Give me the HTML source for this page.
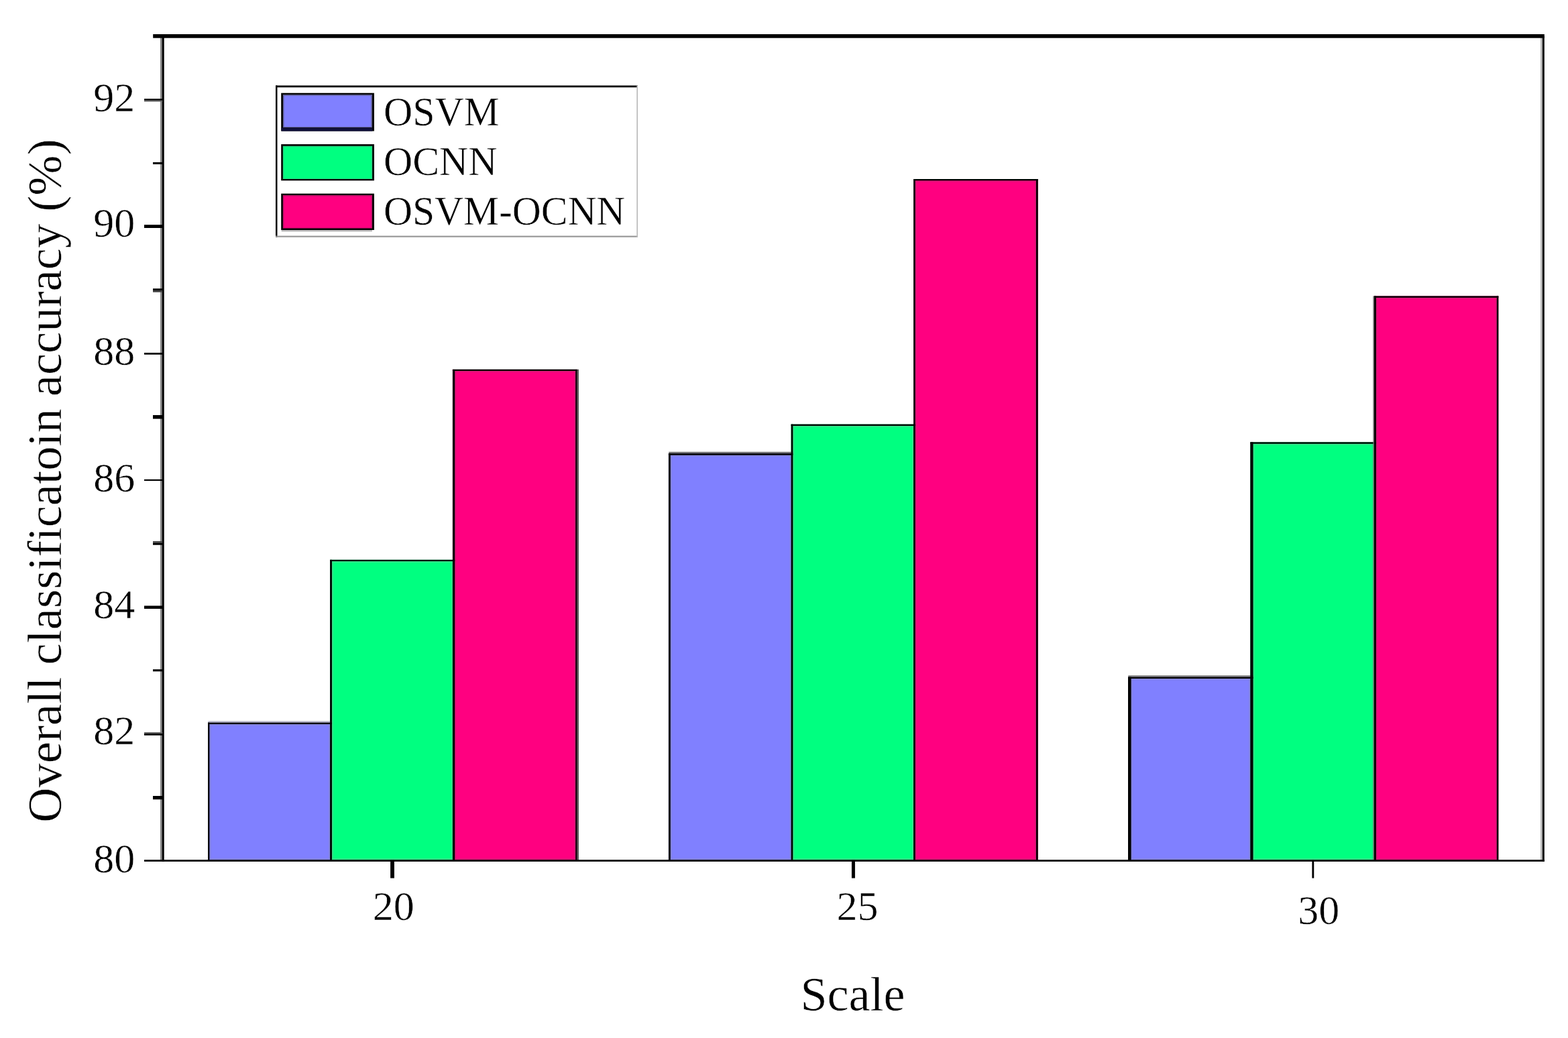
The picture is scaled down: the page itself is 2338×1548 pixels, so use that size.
<!DOCTYPE html>
<html><head><meta charset="utf-8"><title>Overall classification accuracy</title>
<style>
html,body{margin:0;padding:0;background:#fff;}
body{width:2338px;height:1548px;overflow:hidden;}
svg{display:block;}
text{font-family:"Liberation Serif",serif;fill:#000;stroke:#fff;stroke-width:0.5px;}
</style></head><body>
<svg width="2338" height="1548" viewBox="0 0 2338 1548">
<rect width="2338" height="1548" fill="#fff"/>
<g id="chart">

<g id="bars">
<rect x="310.05" y="1077.60" width="184.85" height="206.30" fill="#8080ff"/>
<rect x="492.10" y="834.80" width="186.10" height="449.10" fill="#00ff80"/>
<rect x="674.90" y="550.90" width="185.70" height="733.00" fill="#ff0080"/>
<rect x="312.40" y="1080.00" width="179.70" height="2.20" fill="#8484e2"/>
<rect x="312.40" y="1280.00" width="179.70" height="2.20" fill="#8484e2"/>
<rect x="312.40" y="1080.00" width="2.20" height="202.20" fill="#8484e2"/>
<rect x="489.90" y="1080.00" width="2.20" height="202.20" fill="#8484e2"/>
<rect x="494.90" y="837.00" width="180.00" height="2.20" fill="#30e488"/>
<rect x="494.90" y="1280.00" width="180.00" height="2.20" fill="#30e488"/>
<rect x="494.90" y="837.00" width="2.20" height="445.20" fill="#30e488"/>
<rect x="672.70" y="837.00" width="2.20" height="445.20" fill="#30e488"/>
<rect x="678.20" y="553.10" width="180.00" height="2.20" fill="#de1478"/>
<rect x="678.20" y="1280.00" width="180.00" height="2.20" fill="#de1478"/>
<rect x="678.20" y="553.10" width="2.20" height="729.10" fill="#de1478"/>
<rect x="856.00" y="553.10" width="2.20" height="729.10" fill="#de1478"/>
<rect x="310.35" y="1075.30" width="184.55" height="2.30" fill="#b8b8c8"/>
<rect x="310.05" y="1077.60" width="184.85" height="2.40" fill="#000"/>
<rect x="492.10" y="834.80" width="186.10" height="2.20" fill="#000"/>
<rect x="674.90" y="550.90" width="185.70" height="2.20" fill="#000"/>
<rect x="310.05" y="1077.60" width="2.35" height="206.30" fill="#000"/>
<rect x="492.10" y="834.80" width="2.80" height="449.10" fill="#000"/>
<rect x="674.90" y="550.90" width="3.30" height="733.00" fill="#000"/>
<rect x="858.20" y="550.90" width="2.40" height="733.00" fill="#000"/>
<rect x="860.60" y="550.90" width="2.30" height="732.50" fill="#555"/>
<rect x="996.90" y="676.20" width="185.40" height="607.70" fill="#8080ff"/>
<rect x="1179.60" y="632.70" width="185.15" height="651.20" fill="#00ff80"/>
<rect x="1362.10" y="267.00" width="185.60" height="1016.90" fill="#ff0080"/>
<rect x="999.75" y="678.80" width="179.85" height="2.20" fill="#8484e2"/>
<rect x="999.75" y="1280.00" width="179.85" height="2.20" fill="#8484e2"/>
<rect x="999.75" y="678.80" width="2.20" height="603.40" fill="#8484e2"/>
<rect x="1177.40" y="678.80" width="2.20" height="603.40" fill="#8484e2"/>
<rect x="1182.30" y="635.05" width="179.80" height="2.20" fill="#30e488"/>
<rect x="1182.30" y="1280.00" width="179.80" height="2.20" fill="#30e488"/>
<rect x="1182.30" y="635.05" width="2.20" height="647.15" fill="#30e488"/>
<rect x="1359.90" y="635.05" width="2.20" height="647.15" fill="#30e488"/>
<rect x="1364.75" y="269.30" width="180.15" height="2.20" fill="#de1478"/>
<rect x="1364.75" y="1280.00" width="180.15" height="2.20" fill="#de1478"/>
<rect x="1364.75" y="269.30" width="2.20" height="1012.90" fill="#de1478"/>
<rect x="1542.70" y="269.30" width="2.20" height="1012.90" fill="#de1478"/>
<rect x="997.20" y="673.80" width="185.10" height="2.40" fill="#777"/>
<rect x="996.90" y="676.20" width="185.40" height="2.60" fill="#000"/>
<rect x="1179.60" y="632.70" width="185.15" height="2.35" fill="#000"/>
<rect x="1362.10" y="267.00" width="185.60" height="2.30" fill="#000"/>
<rect x="996.90" y="676.20" width="2.85" height="607.70" fill="#000"/>
<rect x="1179.60" y="632.70" width="2.70" height="651.20" fill="#000"/>
<rect x="1362.10" y="267.00" width="2.65" height="1016.90" fill="#000"/>
<rect x="1544.90" y="267.00" width="2.80" height="1016.90" fill="#000"/>
<rect x="1682.00" y="1009.60" width="186.50" height="274.30" fill="#8080ff"/>
<rect x="1864.30" y="659.40" width="187.50" height="624.50" fill="#00ff80"/>
<rect x="2048.80" y="441.50" width="185.50" height="842.40" fill="#ff0080"/>
<rect x="1686.60" y="1012.00" width="177.70" height="2.20" fill="#8484e2"/>
<rect x="1686.60" y="1280.00" width="177.70" height="2.20" fill="#8484e2"/>
<rect x="1686.60" y="1012.00" width="2.20" height="270.20" fill="#8484e2"/>
<rect x="1862.10" y="1012.00" width="2.20" height="270.20" fill="#8484e2"/>
<rect x="1868.50" y="661.80" width="180.30" height="2.20" fill="#30e488"/>
<rect x="1868.50" y="1280.00" width="180.30" height="2.20" fill="#30e488"/>
<rect x="1868.50" y="661.80" width="2.20" height="620.40" fill="#30e488"/>
<rect x="2046.60" y="661.80" width="2.20" height="620.40" fill="#30e488"/>
<rect x="2051.80" y="443.90" width="180.00" height="2.20" fill="#de1478"/>
<rect x="2051.80" y="1280.00" width="180.00" height="2.20" fill="#de1478"/>
<rect x="2051.80" y="443.90" width="2.20" height="838.30" fill="#de1478"/>
<rect x="2229.60" y="443.90" width="2.20" height="838.30" fill="#de1478"/>
<rect x="1682.30" y="1007.30" width="186.20" height="2.30" fill="#777"/>
<rect x="1682.00" y="1009.60" width="186.50" height="2.40" fill="#000"/>
<rect x="1864.30" y="659.40" width="187.50" height="2.40" fill="#000"/>
<rect x="2048.80" y="441.50" width="185.50" height="2.40" fill="#000"/>
<rect x="1682.00" y="1009.60" width="4.60" height="274.30" fill="#000"/>
<rect x="1864.30" y="659.40" width="4.20" height="624.50" fill="#000"/>
<rect x="2048.80" y="441.50" width="3.00" height="842.40" fill="#000"/>
<rect x="2231.80" y="441.50" width="2.50" height="842.40" fill="#000"/>
<rect x="2047.40" y="441.50" width="1.40" height="841.90" fill="#666"/>
</g>
<g id="axes">
<rect x="238.90" y="53.80" width="3.00" height="1229.60" fill="#888"/>
<rect x="2297.00" y="53.80" width="3.00" height="1229.60" fill="#bbb"/>
<rect x="241.70" y="53.80" width="3.00" height="1231.00" fill="#000"/>
<rect x="2299.90" y="53.80" width="2.90" height="1231.00" fill="#000"/>
<rect x="228.20" y="51.00" width="2074.60" height="5.70" fill="#000"/>
<rect x="215.00" y="1282.20" width="2087.80" height="2.70" fill="#000"/>
<rect x="215.00" y="147.30" width="27.30" height="2.50" fill="#000"/>
<rect x="215.00" y="149.80" width="27.30" height="1.80" fill="#666"/>
<rect x="215.00" y="335.20" width="27.30" height="4.80" fill="#000"/>
<rect x="215.00" y="526.10" width="27.30" height="2.70" fill="#000"/>
<rect x="215.00" y="714.90" width="27.30" height="2.20" fill="#000"/>
<rect x="215.00" y="903.40" width="27.30" height="4.50" fill="#000"/>
<rect x="215.00" y="1091.90" width="27.30" height="2.10" fill="#666"/>
<rect x="215.00" y="1094.00" width="27.30" height="2.70" fill="#000"/>
<rect x="228.00" y="241.90" width="14.20" height="3.10" fill="#000"/>
<rect x="228.00" y="430.30" width="14.20" height="2.70" fill="#000"/>
<rect x="228.00" y="433.00" width="14.20" height="2.80" fill="#444"/>
<rect x="228.00" y="619.05" width="14.20" height="5.55" fill="#000"/>
<rect x="228.00" y="807.10" width="14.20" height="2.80" fill="#444"/>
<rect x="228.00" y="809.90" width="14.20" height="2.80" fill="#000"/>
<rect x="228.00" y="998.20" width="14.20" height="3.10" fill="#000"/>
<rect x="228.00" y="1187.00" width="14.20" height="5.25" fill="#000"/>
<rect x="582.10" y="1284.00" width="5.80" height="25.60" fill="#000"/>
<rect x="1269.90" y="1284.00" width="5.00" height="25.60" fill="#000"/>
<rect x="1956.35" y="1284.00" width="2.90" height="25.60" fill="#000"/>
</g>
<g id="labels">
<text x="201.3" y="165.6" font-size="62" text-anchor="end">92</text>
<text x="201.3" y="353.0" font-size="62" text-anchor="end">90</text>
<text x="201.3" y="544.2" font-size="62" text-anchor="end">88</text>
<text x="201.3" y="733.0" font-size="62" text-anchor="end">86</text>
<text x="201.3" y="921.5" font-size="62" text-anchor="end">84</text>
<text x="201.3" y="1110.2" font-size="62" text-anchor="end">82</text>
<text x="201.3" y="1300.6" font-size="62" text-anchor="end">80</text>
<text x="586.7" y="1372.0" font-size="62" text-anchor="middle">20</text>
<text x="1278.5" y="1372.0" font-size="62" text-anchor="middle">25</text>
<text x="1966.2" y="1377.8" font-size="62" text-anchor="middle">30</text>
<text x="1271.5" y="1507.3" font-size="72" text-anchor="middle">Scale</text>
<text transform="translate(91.2,717) rotate(-90)" font-size="72.45" text-anchor="middle">Overall classificatoin accuracy (%)</text>
</g>
<g id="legend">
<rect x="411.00" y="127.50" width="540.00" height="226.50" fill="#fff"/>
<rect x="411.00" y="127.50" width="540.00" height="2.80" fill="#000"/>
<rect x="411.00" y="127.50" width="2.50" height="226.50" fill="#000"/>
<rect x="411.00" y="351.60" width="540.00" height="2.20" fill="#999"/>
<rect x="949.30" y="127.50" width="1.70" height="226.50" fill="#bbb"/>
<rect x="419.20" y="138.70" width="138.70" height="56.80" fill="#000"/>
<rect x="419.60" y="190.60" width="135.70" height="4.90" fill="#10103a"/>
<rect x="421.90" y="141.00" width="133.10" height="49.20" fill="#606098"/>
<rect x="423.50" y="142.80" width="129.70" height="46.40" fill="#8080ff"/>
<text transform="translate(572,187.4) scale(1.0,1.04)" font-size="59.8">OSVM</text>
<rect x="419.20" y="215.10" width="138.70" height="54.20" fill="#000"/>
<rect x="421.80" y="217.70" width="133.30" height="49.30" fill="#20d880"/>
<rect x="423.40" y="219.50" width="129.90" height="46.50" fill="#00ff80"/>
<text transform="translate(572,261.1) scale(1.0,1.04)" font-size="59.8">OCNN</text>
<rect x="419.20" y="288.70" width="138.70" height="54.30" fill="#000"/>
<rect x="421.80" y="291.00" width="133.20" height="49.60" fill="#c01068"/>
<rect x="423.40" y="292.80" width="129.80" height="46.80" fill="#ff0080"/>
<rect x="419.70" y="343.00" width="135.20" height="2.50" fill="#bbb"/>
<text transform="translate(572,334.8) scale(0.995,1.04)" font-size="59.8">OSVM-OCNN</text>
</g>
</g></svg></body></html>
